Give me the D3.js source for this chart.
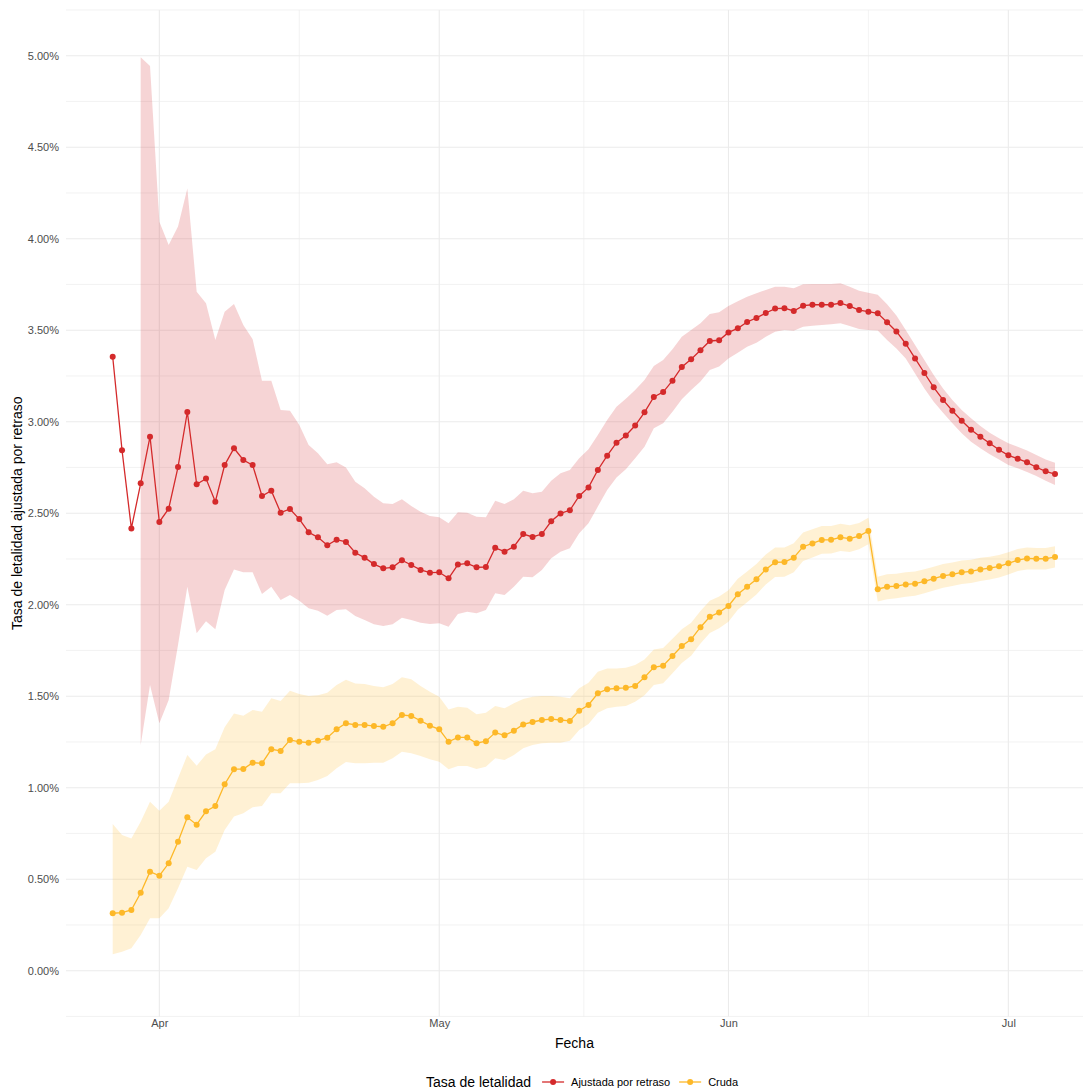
<!DOCTYPE html>
<html>
<head>
<meta charset="utf-8">
<script src="https://cdn.jsdelivr.net/npm/d3@7"></script>
<style>
  html, body { margin: 0; padding: 0; background: #fff; }
  svg { display: block; font-family: "Liberation Sans", Arial, Helvetica, sans-serif; }
</style>
</head>
<body>
<svg id="chart" width="1089" height="1092"></svg>
<script>
// Daily case-fatality rate (%), from 27 March to 6 July
const startDate = new Date(2020, 2, 27);

// Delay-adjusted rate with its interval
const ajustada = [
  3.355,2.844,2.417,2.663,2.918,2.452,2.525,2.752,3.053,2.658,
  2.689,2.563,2.763,2.855,2.791,2.763,2.594,2.623,2.503,2.523,
  2.468,2.396,2.368,2.325,2.355,2.343,2.284,2.257,2.222,2.199,
  2.204,2.243,2.217,2.190,2.175,2.177,2.144,2.219,2.226,2.204,
  2.206,2.311,2.290,2.317,2.386,2.370,2.386,2.456,2.499,2.516,
  2.594,2.641,2.736,2.814,2.885,2.925,2.979,3.051,3.135,3.162,
  3.224,3.299,3.341,3.390,3.441,3.445,3.488,3.510,3.545,3.567,
  3.594,3.618,3.620,3.605,3.634,3.639,3.639,3.639,3.648,3.632,
  3.610,3.601,3.592,3.543,3.493,3.426,3.346,3.266,3.188,3.119,
  3.060,3.005,2.956,2.918,2.882,2.847,2.816,2.798,2.778,2.751,
  2.729,2.714
];
const ajustadaAlta = [
  null,null,null,4.991,4.944,4.093,3.966,4.066,4.275,3.710,
  3.647,3.446,3.601,3.643,3.528,3.450,3.224,3.224,3.064,3.060,
  2.982,2.873,2.827,2.767,2.778,2.750,2.672,2.636,2.590,2.554,
  2.550,2.576,2.539,2.508,2.485,2.478,2.445,2.505,2.503,2.481,
  2.478,2.568,2.550,2.576,2.623,2.609,2.617,2.678,2.718,2.736,
  2.800,2.849,2.927,3.009,3.082,3.125,3.173,3.228,3.304,3.337,
  3.396,3.464,3.501,3.538,3.589,3.598,3.632,3.658,3.683,3.702,
  3.720,3.738,3.738,3.729,3.751,3.752,3.752,3.752,3.756,3.738,
  3.716,3.705,3.694,3.642,3.580,3.501,3.419,3.337,3.255,3.182,
  3.119,3.064,3.019,2.977,2.940,2.909,2.882,2.863,2.842,2.818,
  2.794,2.776
];
const ajustadaBaja = [
  null,null,null,1.233,1.561,1.352,1.479,1.780,2.098,1.844,
  1.910,1.866,2.080,2.193,2.177,2.177,2.058,2.098,2.026,2.053,
  2.022,1.980,1.967,1.940,1.971,1.975,1.938,1.916,1.893,1.884,
  1.893,1.929,1.916,1.902,1.895,1.898,1.880,1.949,1.962,1.953,
  1.971,2.062,2.053,2.098,2.153,2.150,2.190,2.254,2.290,2.308,
  2.390,2.445,2.536,2.627,2.695,2.740,2.800,2.863,2.964,2.991,
  3.055,3.122,3.173,3.219,3.283,3.301,3.346,3.377,3.410,3.432,
  3.464,3.492,3.501,3.497,3.519,3.525,3.528,3.532,3.538,3.523,
  3.507,3.501,3.499,3.446,3.400,3.346,3.264,3.182,3.109,3.049,
  2.991,2.937,2.891,2.855,2.822,2.794,2.763,2.745,2.725,2.703,
  2.678,2.654
];

// Crude rate with its interval
const cruda = [
  0.314,0.317,0.332,0.426,0.541,0.519,0.587,0.705,0.838,0.798,
  0.871,0.900,1.019,1.101,1.102,1.137,1.133,1.210,1.201,1.261,
  1.251,1.246,1.257,1.273,1.319,1.352,1.343,1.343,1.337,1.333,
  1.352,1.397,1.392,1.366,1.339,1.319,1.251,1.275,1.275,1.243,
  1.254,1.301,1.286,1.311,1.346,1.359,1.370,1.375,1.370,1.365,
  1.421,1.452,1.516,1.538,1.543,1.546,1.556,1.603,1.658,1.667,
  1.720,1.774,1.811,1.877,1.934,1.958,1.993,2.057,2.098,2.139,
  2.193,2.232,2.233,2.257,2.317,2.335,2.354,2.355,2.368,2.361,
  2.375,2.403,2.085,2.098,2.102,2.111,2.115,2.128,2.142,2.157,
  2.166,2.177,2.182,2.193,2.200,2.210,2.226,2.244,2.253,2.251,
  2.251,2.261
];
const crudaAlta = [
  0.802,0.742,0.723,0.814,0.923,0.874,0.923,1.051,1.179,1.120,
  1.182,1.210,1.330,1.406,1.393,1.425,1.415,1.489,1.474,1.530,
  1.512,1.501,1.505,1.519,1.561,1.590,1.570,1.567,1.556,1.549,
  1.567,1.603,1.592,1.556,1.525,1.497,1.428,1.443,1.437,1.401,
  1.410,1.446,1.434,1.461,1.485,1.497,1.501,1.501,1.497,1.489,
  1.543,1.574,1.634,1.652,1.652,1.656,1.670,1.701,1.755,1.763,
  1.814,1.866,1.901,1.966,2.022,2.045,2.079,2.142,2.182,2.222,
  2.275,2.313,2.313,2.336,2.395,2.412,2.430,2.430,2.442,2.434,
  2.447,2.475,2.153,2.166,2.169,2.178,2.181,2.194,2.207,2.222,
  2.230,2.241,2.245,2.256,2.262,2.272,2.287,2.304,2.313,2.310,
  2.310,2.319
];
const crudaBaja = [
  0.090,0.104,0.122,0.195,0.286,0.286,0.341,0.450,0.568,0.550,
  0.614,0.650,0.769,0.842,0.860,0.893,0.900,0.969,0.969,1.024,
  1.024,1.027,1.042,1.064,1.106,1.140,1.133,1.133,1.137,1.137,
  1.161,1.197,1.188,1.173,1.155,1.142,1.101,1.119,1.119,1.102,
  1.115,1.161,1.151,1.179,1.215,1.233,1.243,1.246,1.246,1.257,
  1.315,1.348,1.410,1.434,1.443,1.446,1.470,1.505,1.561,1.571,
  1.626,1.682,1.721,1.788,1.846,1.871,1.907,1.972,2.014,2.056,
  2.111,2.151,2.153,2.178,2.239,2.258,2.278,2.280,2.294,2.288,
  2.303,2.331,2.017,2.030,2.035,2.044,2.049,2.062,2.077,2.092,
  2.102,2.113,2.119,2.130,2.138,2.148,2.165,2.184,2.193,2.192,
  2.192,2.203
];

const seriesNames = ["Ajustada por retraso", "Cruda"];
const seriesColors = ["#D42A2B", "#FDB828"];
const yTicks = [0, 0.5, 1, 1.5, 2, 2.5, 3, 3.5, 4, 4.5, 5];
const xTickDates = [new Date(2020, 3, 1), new Date(2020, 4, 1), new Date(2020, 5, 1), new Date(2020, 6, 1)];
const xTickLabels = ["Apr", "May", "Jun", "Jul"];
const xTitle = "Fecha";
const yTitle = "Tasa de letalidad ajustada por retraso";
const legendTitle = "Tasa de letalidad";

const dates = ajustada.map((_, i) => d3.timeDay.offset(startDate, i));
const series = [
  { name: seriesNames[0], color: seriesColors[0],
    rows: dates.map((d, i) => ({ date: d, v: ajustada[i], lo: ajustadaBaja[i], hi: ajustadaAlta[i] })) },
  { name: seriesNames[1], color: seriesColors[1],
    rows: dates.map((d, i) => ({ date: d, v: cruda[i], lo: crudaBaja[i], hi: crudaAlta[i] })) }
];

// Panel geometry
const panel = { left: 66, right: 1083, top: 10, bottom: 1016.5 };

const x = d3.scaleTime()
  .domain([dates[0], dates[dates.length - 1]])
  .range([112.7, 1055]);
const y = d3.scaleLinear()
  .domain([0, 5])
  .range([970.7, 55.7]);

const svg = d3.select("#chart");
const gridColor = "#ebebeb";

// Grid: minor lines first, then major
const grid = svg.append("g");
const yMinor = d3.range(-0.25, 5.3, 0.5);
grid.selectAll("line.ymin").data(yMinor).enter().append("line")
  .attr("x1", panel.left).attr("x2", panel.right)
  .attr("y1", d => y(d)).attr("y2", d => y(d))
  .attr("stroke", gridColor).attr("stroke-width", 0.6);
const xMajorPx = xTickDates.map(d => x(d));
const xMinorPx = d3.pairs(xMajorPx).map(([a, b]) => (a + b) / 2);
grid.selectAll("line.xmin").data(xMinorPx).enter().append("line")
  .attr("x1", d => d).attr("x2", d => d)
  .attr("y1", panel.top).attr("y2", panel.bottom)
  .attr("stroke", gridColor).attr("stroke-width", 0.6);
grid.selectAll("line.ymaj").data(yTicks).enter().append("line")
  .attr("x1", panel.left).attr("x2", panel.right)
  .attr("y1", d => y(d)).attr("y2", d => y(d))
  .attr("stroke", gridColor).attr("stroke-width", 1.1);
grid.selectAll("line.xmaj").data(xTickDates).enter().append("line")
  .attr("x1", d => x(d)).attr("x2", d => x(d))
  .attr("y1", panel.top).attr("y2", panel.bottom)
  .attr("stroke", gridColor).attr("stroke-width", 1.1);

// Axes (labels only, no domain line or ticks)
const yAxis = d3.axisLeft(y).tickValues(yTicks).tickSize(0).tickPadding(0)
  .tickFormat(d => d3.format(".2f")(d) + "%");
svg.append("g").attr("transform", `translate(${panel.left - 7},0)`).call(yAxis)
  .call(g => g.select(".domain").remove())
  .call(g => g.selectAll("text").attr("fill", "#4d4d4d").attr("font-size", 11)
    .attr("font-family", "Liberation Sans, Arial, sans-serif"));

const xAxis = d3.axisBottom(x).tickValues(xTickDates).tickSize(0).tickPadding(0)
  .tickFormat((d, i) => xTickLabels[i]);
svg.append("g").attr("transform", `translate(0,${panel.bottom + 3})`).call(xAxis)
  .call(g => g.select(".domain").remove())
  .call(g => g.selectAll("text").attr("fill", "#4d4d4d").attr("font-size", 11)
    .attr("font-family", "Liberation Sans, Arial, sans-serif"));

// Axis titles
svg.append("text").attr("x", (panel.left + panel.right) / 2).attr("y", 1048)
  .attr("text-anchor", "middle").attr("font-size", 14).attr("fill", "#000").text(xTitle);
svg.append("text").attr("transform", `translate(22,${(panel.top + panel.bottom) / 2}) rotate(-90)`)
  .attr("text-anchor", "middle").attr("font-size", 14).attr("fill", "#000").text(yTitle);

// Ribbons
const area = d3.area()
  .defined(d => d.lo != null && d.hi != null)
  .x(d => x(d.date)).y0(d => y(d.lo)).y1(d => y(d.hi));
svg.append("g").selectAll("path").data(series).enter().append("path")
  .attr("d", s => area(s.rows))
  .attr("fill", s => s.color).attr("fill-opacity", 0.2).attr("stroke", "none");

// Lines
const line = d3.line().x(d => x(d.date)).y(d => y(d.v));
svg.append("g").selectAll("path").data(series).enter().append("path")
  .attr("d", s => line(s.rows))
  .attr("fill", "none").attr("stroke", s => s.color).attr("stroke-width", 1.3);

// Points
svg.append("g").selectAll("g").data(series).enter().append("g")
  .attr("fill", s => s.color)
  .selectAll("circle").data(s => s.rows).enter().append("circle")
  .attr("cx", d => x(d.date)).attr("cy", d => y(d.v)).attr("r", 3);

// Legend at the bottom
const legend = svg.append("g");
const ly = 1082;
const title = legend.append("text").attr("y", ly).attr("dy", "0.35em")
  .attr("font-size", 14).attr("fill", "#000").text(legendTitle);
const items = series.map(s => {
  const g = legend.append("g");
  g.append("line").attr("x1", 0).attr("x2", 22).attr("y1", ly).attr("y2", ly)
    .attr("stroke", s.color).attr("stroke-width", 1.3);
  g.append("circle").attr("cx", 11).attr("cy", ly).attr("r", 3).attr("fill", s.color);
  const t = g.append("text").attr("x", 29).attr("y", ly).attr("dy", "0.35em")
    .attr("font-size", 11).attr("fill", "#000").text(s.name);
  return { g, w: 29 + t.node().getComputedTextLength() };
});
const titleW = title.node().getComputedTextLength();
let cx = 426;
title.attr("x", cx);
cx += titleW + 11;
items.forEach(it => { it.g.attr("transform", `translate(${cx},0)`); cx += it.w + 9; });
</script>
</body>
</html>
